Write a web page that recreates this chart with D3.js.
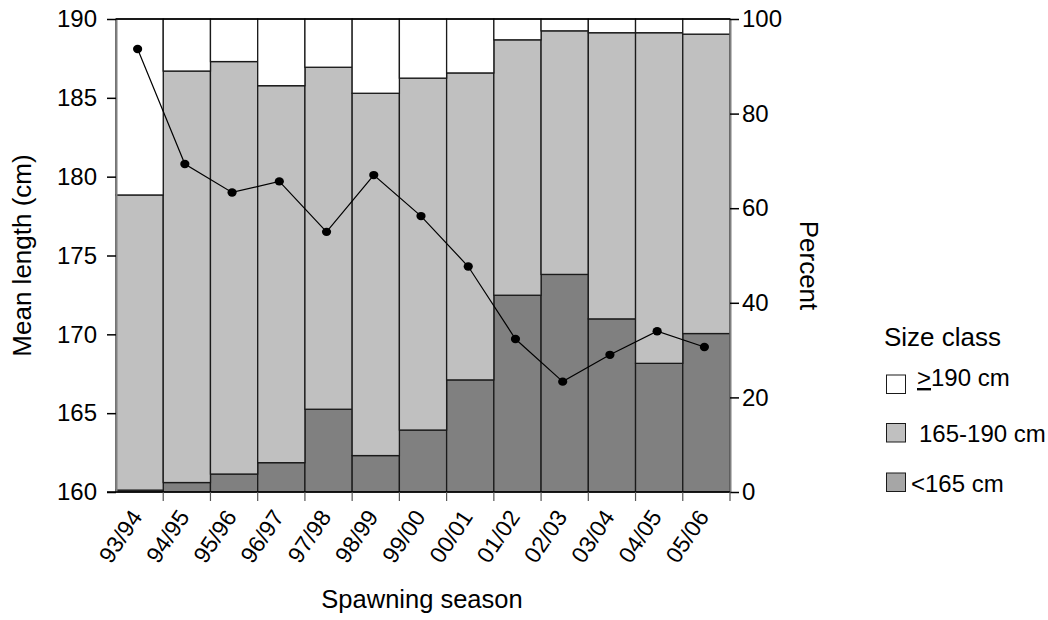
<!DOCTYPE html>
<html>
<head>
<meta charset="utf-8">
<script src="https://cdn.jsdelivr.net/npm/d3@7"></script>
<style>
  body { margin: 0; background: #fff; }
  svg { display: block; font-family: "Liberation Sans", Arial, sans-serif; }
</style>
</head>
<body>
<svg id="chart" width="1048" height="620"></svg>
<script>
// Spawning seasons
const seasons = ["93/94","94/95","95/96","96/97","97/98","98/99","99/00","00/01","01/02","02/03","03/04","04/05","05/06"];
// Percent of spawners in each size class
const pctUnder165 = [0.4, 2.0, 3.8, 6.2, 17.5, 7.7, 13.1, 23.7, 41.6, 46.0, 36.6, 27.2, 33.5];
const pct165to190 = [62.4, 87.0, 87.2, 79.7, 72.3, 76.6, 74.4, 64.9, 54.0, 51.5, 60.5, 69.9, 63.3];
const pctOver190 = [37.2, 11.0, 9.0, 14.1, 10.2, 15.7, 12.5, 11.4, 4.4, 2.5, 2.9, 2.9, 3.2];
// Mean length (cm)
const meanLength = [188.1, 180.8, 179.0, 179.7, 176.5, 180.1, 177.5, 174.3, 169.7, 167.0, 168.7, 170.2, 169.2];
// Axis ticks
const lengthTicks = [160, 165, 170, 175, 180, 185, 190];
const percentTicks = [0, 20, 40, 60, 80, 100];
// Size classes (bottom to top of each stacked bar)
const classKeys = ["under", "mid", "over"];
const classColors = ["#808080", "#c0c0c0", "#ffffff"];
const legendColors = ["#a6a6a6", "#c0c0c0", "#ffffff"];

const svg = d3.select("#chart");
const plotLeft = 116, plotRight = 730, plotTop = 19, plotBottom = 492;

const x = d3.scaleBand().domain(seasons).range([plotLeft, plotRight]).padding(0);
const yLen = d3.scaleLinear().domain([160, 190]).range([plotBottom, plotTop]);
const yPct = d3.scaleLinear().domain([0, 100]).range([plotBottom, plotTop]);
const color = d3.scaleOrdinal().domain(classKeys).range(classColors);

const rows = seasons.map((s, i) => ({ season: s, under: pctUnder165[i], mid: pct165to190[i], over: pctOver190[i] }));
const stacked = d3.stack().keys(classKeys)(rows);

// Stacked percentage bars
svg.append("g").selectAll("g")
  .data(stacked).join("g")
  .attr("fill", d => color(d.key))
  .selectAll("rect")
  .data(d => d).join("rect")
  .attr("x", d => x(d.data.season))
  .attr("width", x.bandwidth())
  .attr("y", d => yPct(d[1]))
  .attr("height", d => yPct(d[0]) - yPct(d[1]))
  .attr("stroke", "#1a1a1a")
  .attr("stroke-width", 1.3);

// Left axis: mean length
const axL = svg.append("g").attr("transform", `translate(${plotLeft},0)`)
  .call(d3.axisLeft(yLen).tickValues(lengthTicks).tickSize(9).tickSizeOuter(0).tickPadding(10));
// Right axis: percent
const axR = svg.append("g").attr("transform", `translate(${plotRight},0)`)
  .call(d3.axisRight(yPct).tickValues(percentTicks).tickSize(9).tickSizeOuter(0).tickPadding(3));
[axL, axR].forEach(ax => {
  ax.select(".domain").attr("stroke", "#808080").attr("stroke-width", 2);
  ax.selectAll(".tick line").attr("stroke", "#000").attr("stroke-width", 1.5);
  ax.selectAll(".tick text").attr("font-size", 24).attr("fill", "#000")
    .attr("font-family", "'Liberation Sans', Arial, sans-serif");
});

// Top frame line
svg.append("line").attr("x1", plotLeft).attr("x2", plotRight).attr("y1", plotTop).attr("y2", plotTop)
  .attr("stroke", "#000").attr("stroke-width", 1.5);
// Bottom baseline
svg.append("line").attr("x1", plotLeft - 9).attr("x2", plotRight).attr("y1", plotBottom).attr("y2", plotBottom)
  .attr("stroke", "#000").attr("stroke-width", 1.5);

// Bottom tick marks at bar boundaries
const bounds = seasons.map(s => x(s)).concat([plotRight]);
svg.append("g").selectAll("line").data(bounds.slice(1)).join("line")
  .attr("x1", d => d).attr("x2", d => d)
  .attr("y1", plotBottom).attr("y2", plotBottom + 9)
  .attr("stroke", "#555").attr("stroke-width", 1.2);

// Season labels, rotated
svg.append("g").selectAll("text").data(seasons).join("text")
  .attr("transform", d => `translate(${x(d) + x.bandwidth() / 2 + 3.5},${plotBottom + 25}) rotate(-56)`)
  .attr("text-anchor", "end")
  .attr("font-size", 23)
  .text(d => d);

// Mean length line with points
const cx = (d, i) => x(seasons[i]) + x.bandwidth() / 2 - 2;
svg.append("path")
  .datum(meanLength)
  .attr("fill", "none").attr("stroke", "#000").attr("stroke-width", 1.2)
  .attr("d", d3.line().x(cx).y(d => yLen(d)));
svg.append("g").selectAll("ellipse").data(meanLength).join("ellipse")
  .attr("cx", cx).attr("cy", d => yLen(d))
  .attr("rx", 4.6).attr("ry", 4.2)
  .attr("fill", "#000");

// Axis titles
svg.append("text")
  .attr("transform", `translate(31,${(plotTop + plotBottom) / 2}) rotate(-90)`)
  .attr("text-anchor", "middle").attr("font-size", 26)
  .text("Mean length (cm)");
svg.append("text")
  .attr("transform", `translate(800,${(plotTop + plotBottom) / 2 + 10}) rotate(90)`)
  .attr("text-anchor", "middle").attr("font-size", 26)
  .text("Percent");
svg.append("text")
  .attr("x", 422).attr("y", 608)
  .attr("text-anchor", "middle").attr("font-size", 25.5)
  .text("Spawning season");

// Legend
const legend = svg.append("g");
legend.append("text").attr("x", 884).attr("y", 346).attr("font-size", 26).text("Size class");
const swatchY = [375, 423.5, 473];
[2, 1, 0].forEach((k, j) => {
  legend.append("rect")
    .attr("x", 886.5).attr("y", swatchY[j])
    .attr("width", 19).attr("height", 18.5)
    .attr("fill", legendColors[k]).attr("stroke", "#1a1a1a").attr("stroke-width", 1);
});
const t1 = legend.append("text").attr("x", 917).attr("y", 386).attr("font-size", 24);
t1.append("tspan").attr("text-decoration", "underline").text(">");
t1.append("tspan").text("190 cm");
legend.append("text").attr("x", 919).attr("y", 442).attr("font-size", 24).text("165-190 cm");
legend.append("text").attr("x", 911).attr("y", 492).attr("font-size", 24).text("<165 cm");
</script>
</body>
</html>
